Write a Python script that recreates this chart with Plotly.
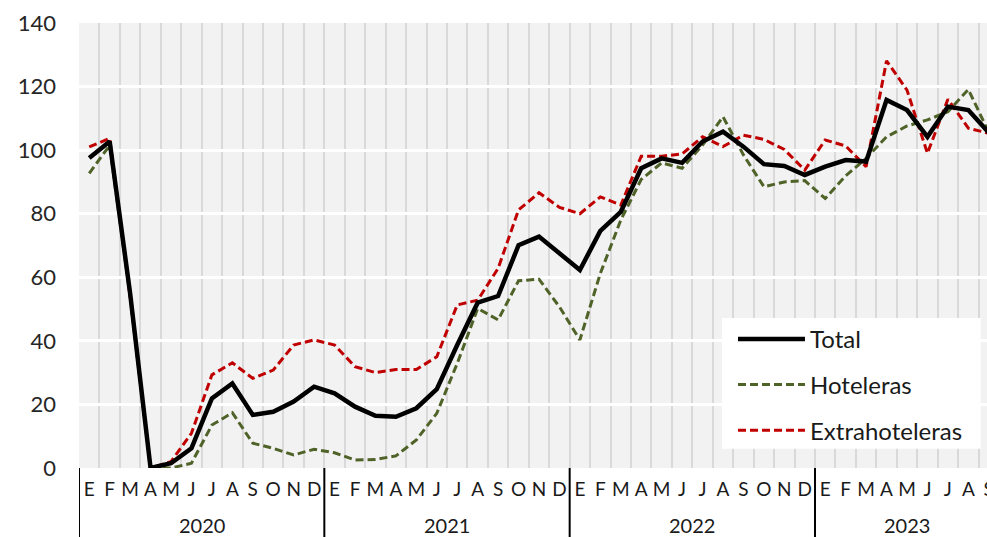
import plotly.graph_objects as go

# month initials (Spanish) and years
meses = ["E", "F", "M", "A", "M", "J", "J", "A", "S", "O", "N", "D"]
anios = ["2020", "2021", "2022", "2023"]

total = [97.5, 102.7, 55, 0, 1.5, 6.2, 21.9, 26.6, 16.7, 17.7, 20.9, 25.6,
         23.5, 19.3, 16.4, 16.1, 18.8, 24.8, 38.7, 52, 54.1, 70.1, 72.8, 67.5,
         62.3, 74.6, 80.6, 94.3, 97.4, 96, 102.7, 105.8, 101.1, 95.6, 95, 92.2,
         94.8, 96.9, 96.4, 115.8, 112.6, 104.2, 113.7, 112.6, 105.5]
hoteleras = [92.7, 101.5, 54, 0, 0, 1.5, 13.5, 17.4, 7.8, 6.2, 4.1, 5.9,
             4.8, 2.5, 2.7, 3.8, 8.8, 17.2, 32.9, 50.2, 46.6, 58.9, 59.4, 50.7,
             40.3, 61.2, 78, 90.8, 96, 94.3, 101.6, 110.5, 98.5, 88.5, 90, 90.4,
             84.8, 91.9, 97.4, 104.2, 107.6, 109.5, 112.1, 119.1, 105.6]
extrahoteleras = [101, 103.7, 54, 0, 2, 10.9, 29.3, 33.1, 28.2, 30.8, 38.7, 40.3,
                  38.7, 31.9, 30, 31, 31, 35, 51.3, 52.8, 62.8, 81.2, 86.6, 82,
                  80, 85.3, 82.7, 98.1, 98.1, 98.8, 104.2, 101.1, 104.7, 103.4, 100.2, 93.7,
                  103.2, 101.3, 94.8, 128.1, 118.9, 99, 116, 106.9, 105.3]

n = len(total)
x = list(range(n))
x_mes = [meses[i % 12] for i in x]

series = [
    ("Total", total, dict(color="black", width=4.5)),
    ("Hoteleras", hoteleras, dict(color="#4F6228", width=3, dash="8px,4px")),
    ("Extrahoteleras", extrahoteleras, dict(color="#C00000", width=3, dash="8px,4px")),
]

fig = go.Figure()
# draw thin ones first so the total sits on top
for name, vals, ln in series[1:] + series[:1]:
    fig.add_trace(go.Scatter(x=x, y=vals, name=name, mode="lines", line=ln, showlegend=False))

# reference line at 100
fig.add_shape(type="line", xref="paper", x0=0, x1=1, yref="y", y0=100, y1=100,
              line=dict(color="black", width=1.5), layer="between")

# year groups: label under the months, divider at the start of each year
for k, anio in enumerate(anios):
    idx = [i for i in x if i // 12 == k]
    fig.add_annotation(x=sum(idx) / len(idx), xref="x", y=-0.128, yref="paper", text=anio,
                       showarrow=False, yanchor="middle",
                       font=dict(size=20, color="#1a1a1a", family="Lato"))
    fig.add_shape(type="line", xref="x", x0=idx[0] - 0.5, x1=idx[0] - 0.5,
                  yref="paper", y0=0, y1=-0.16, line=dict(color="black", width=2))

# hand made legend box (longer line samples than plotly's own)
fig.add_shape(type="rect", xref="paper", yref="paper", x0=0.699, x1=0.980, y0=0.043, y1=0.337,
              fillcolor="white", line=dict(width=0), layer="above")
for i, (name, vals, ln) in enumerate(series):
    yy = 0.290 - i * 0.1025
    fig.add_shape(type="line", xref="paper", yref="paper", x0=0.7163, x1=0.7891, y0=yy, y1=yy,
                  line=ln, layer="above")
    fig.add_annotation(xref="paper", yref="paper", x=0.7925, y=yy, text=name, showarrow=False,
                       xanchor="left", yanchor="middle",
                       font=dict(size=24, color="#1a1a1a", family="Lato"))

fig.update_xaxes(range=[-0.5, n - 0.5], tickmode="array", tickvals=x, ticktext=x_mes,
                 tickangle=0, showgrid=False, ticks="", showline=False, zeroline=False,
                 ticklabelstandoff=8,
                 minor=dict(tickmode="linear", tick0=-0.5, dtick=1, showgrid=True,
                            gridcolor="#d9d9d9", gridwidth=2, ticks=""),
                 tickfont=dict(size=19, color="#1a1a1a", family="Lato"))
fig.update_yaxes(range=[0, 140], dtick=20, showgrid=True, gridcolor="white", gridwidth=2.5,
                 zeroline=False, ticks="", showline=False, ticklabelstandoff=22,
                 tickfont=dict(size=22, color="#262626", family="Lato"))

# the original chart is cropped on the right, so the figure runs a little past the window
fig.update_layout(width=999, height=537, margin=dict(l=79, r=0, t=23, b=69),
                  plot_bgcolor="#f2f2f2", paper_bgcolor="white")

fig.write_html("out.html", config={"displayModeBar": False},
               post_script="document.body.style.margin='0';"
               "document.documentElement.style.overflow='hidden';")
